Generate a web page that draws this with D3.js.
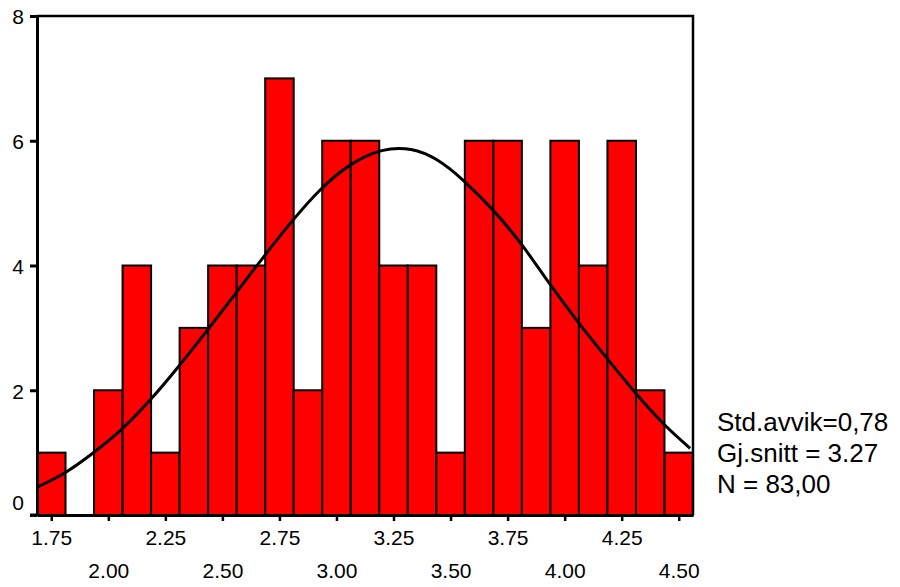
<!DOCTYPE html>
<html>
<head>
<meta charset="utf-8">
<style>
body { margin: 0; background: #ffffff; }
svg { display: block; }
text { font-family: "Liberation Sans", Arial, sans-serif; fill: #000; }
</style>
<script src="https://cdn.jsdelivr.net/npm/d3@7"></script>
</head>
<body>
<svg id="chart" width="900" height="587"></svg>
<script>

// bin centres (width 0.125) and counts
var binCenters = [1.75, 1.875, 2.0, 2.125, 2.25, 2.375, 2.5, 2.625, 2.75, 2.875, 3.0, 3.125,
	3.25, 3.375, 3.5, 3.625, 3.75, 3.875, 4.0, 4.125, 4.25, 4.375, 4.5];
var counts = [1, 0, 2, 4, 1, 3, 4, 4, 7, 2, 6, 6,
	4, 4, 1, 6, 6, 3, 6, 4, 6, 2, 1];

// normal curve, points
var curveX = [1.69, 1.81, 1.93, 2.06, 2.18, 2.30, 2.43, 2.56, 2.68, 2.81, 2.93, 3.06,
	3.20, 3.33, 3.44, 3.55, 3.70, 3.82, 3.93, 4.06, 4.19, 4.31, 4.44, 4.55];
var curveY = [0.45, 0.66, 0.98, 1.36, 1.82, 2.34, 2.94, 3.56, 4.14, 4.74, 5.24, 5.64,
	5.88, 5.89, 5.72, 5.40, 4.85, 4.31, 3.72, 3.08, 2.49, 1.95, 1.42, 1.07];

var xTicks = [1.75, 2.0, 2.25, 2.5, 2.75, 3.0, 3.25, 3.5, 3.75, 4.0, 4.25, 4.5];
var yTicks = [0, 2, 4, 6, 8];
var stats = ["Std.avvik=0,78", "Gj.snitt = 3.27", "N = 83,00"];

var binWidth = 0.125;

var svg = d3.select("#chart");

var x = d3.scaleLinear()
	.domain([1.6875, 4.5625])
	.range([37, 693]);

var y = d3.scaleLinear()
	.domain([0, 8])
	.range([515, 16]);

// bars
svg.append("g")
	.selectAll("rect")
	.data(binCenters.map(function(c, i) { return {c: c, n: counts[i]}; })
		.filter(function(d) { return d.n > 0; }))
	.enter().append("rect")
		.attr("x", function(d) { return x(d.c - binWidth / 2); })
		.attr("y", function(d) { return y(d.n); })
		.attr("width", function(d) { return x(d.c + binWidth / 2) - x(d.c - binWidth / 2); })
		.attr("height", function(d) { return y(0) - y(d.n); })
		.attr("fill", "#ff0000")
		.attr("stroke", "#000")
		.attr("stroke-width", 2);

// normal curve
var line = d3.line()
	.x(function(d) { return x(d[0]); })
	.y(function(d) { return y(d[1]); })
	.curve(d3.curveBasis);

svg.append("path")
	.datum(curveX.map(function(v, i) { return [v, curveY[i]]; }))
	.attr("d", line)
	.attr("fill", "none")
	.attr("stroke", "#000")
	.attr("stroke-width", 3);

// frame (top and right)
svg.append("path")
	.attr("d", "M" + x.range()[0] + "," + y(8) + "H" + x.range()[1] + "V" + y(0))
	.attr("fill", "none")
	.attr("stroke", "#000")
	.attr("stroke-width", 2.5);

// left axis
var yAxis = svg.append("g")
	.attr("transform", "translate(" + x.range()[0] + ",0)")
	.call(d3.axisLeft(y).tickValues(yTicks).tickSize(7).tickPadding(6).tickSizeOuter(0));

yAxis.select(".domain").attr("stroke-width", 3);
yAxis.selectAll(".tick line").attr("stroke-width", 3);
yAxis.selectAll(".tick text")
	.attr("font-size", "21px")
	.attr("font-family", "Liberation Sans, Arial, sans-serif")
	.attr("dy", function(d) { return d === 0 ? "-0.26em" : "0.38em"; });

// bottom axis
var xAxis = svg.append("g")
	.attr("transform", "translate(0," + y(0) + ")")
	.call(d3.axisBottom(x).tickValues(xTicks).tickSize(6).tickSizeOuter(0)
		.tickFormat(d3.format(".2f")));

xAxis.select(".domain").attr("stroke-width", 3);
xAxis.selectAll(".tick line").attr("stroke-width", 2.5);
xAxis.selectAll(".tick text")
	.attr("font-size", "21px")
	.attr("font-family", "Liberation Sans, Arial, sans-serif")
	.attr("y", function(d, i) { return i % 2 === 0 ? 15 : 48; })
	.attr("dy", "0.71em");

// extend the baseline to meet the 0 tick
svg.append("line")
	.attr("x1", 30).attr("x2", x.range()[0])
	.attr("y1", y(0)).attr("y2", y(0))
	.attr("stroke", "#000")
	.attr("stroke-width", 3);

// statistics text
svg.append("g")
	.selectAll("text")
	.data(stats)
	.enter().append("text")
		.attr("x", 717)
		.attr("y", function(d, i) { return 431 + i * 31; })
		.attr("font-size", "26px")
		.text(function(d) { return d; });

</script>
</body>
</html>
